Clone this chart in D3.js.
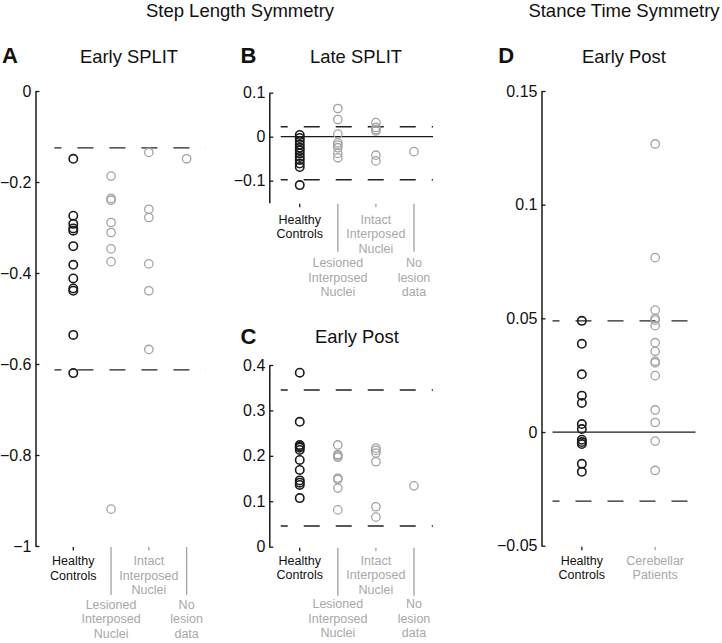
<!DOCTYPE html>
<html>
<head>
<meta charset="utf-8">
<script src="https://cdn.jsdelivr.net/npm/d3@7"></script>
<style>
  body { margin: 0; background: #fff; }
  svg { font-family: "Liberation Sans", Arial, sans-serif; }
</style>
</head>
<body>
<div id="chart"></div>
<script>
// group names and their (multi-line) tick labels
var stepGroups = ["Healthy Controls", "Lesioned Interposed Nuclei", "Intact Interposed Nuclei", "No lesion data"];
var stepLabels = [["Healthy", "Controls"], ["Lesioned", "Interposed", "Nuclei"], ["Intact", "Interposed", "Nuclei"], ["No", "lesion", "data"]];
var stanceGroups = ["Healthy Controls", "Cerebellar Patients"];
var stanceLabels = [["Healthy", "Controls"], ["Cerebellar", "Patients"]];

// A: step length symmetry, early split
var earlySplitControls = [-0.149, -0.274, -0.292, -0.302, -0.307, -0.341, -0.382, -0.412, -0.434, -0.439, -0.536, -0.620];
var earlySplitLesioned = [-0.187, -0.236, -0.240, -0.289, -0.311, -0.347, -0.375, -0.919];
var earlySplitIntact = [-0.135, -0.260, -0.278, -0.380, -0.439, -0.568];
var earlySplitNoData = [-0.149];
var earlySplitBounds = [-0.125, -0.613];

// B: step length symmetry, late split
var lateSplitControls = [0.004, -0.003, -0.010, -0.018, -0.025, -0.031, -0.038, -0.046, -0.053, -0.061, -0.069, -0.110];
var lateSplitLesioned = [0.064, 0.039, 0.006, -0.014, -0.019, -0.025, -0.038, -0.048];
var lateSplitIntact = [0.032, 0.021, 0.016, 0.013, -0.042, -0.055];
var lateSplitNoData = [-0.034];
var lateSplitBounds = [0.0227, -0.098];

// C: step length symmetry, early post
var earlyPostControls = [0.383, 0.275, 0.224, 0.221, 0.218, 0.213, 0.191, 0.169, 0.146, 0.141, 0.136, 0.107];
var earlyPostLesioned = [0.224, 0.203, 0.200, 0.197, 0.151, 0.148, 0.129, 0.081];
var earlyPostIntact = [0.217, 0.212, 0.206, 0.187, 0.088, 0.065];
var earlyPostNoData = [0.134];
var earlyPostBounds = [0.345, 0.0455];

// D: stance time symmetry, early post
var stanceControls = [0.0489, 0.0388, 0.0254, 0.0160, 0.0128, 0.0035, 0.0013, -0.0034, -0.0044, -0.0053, -0.0140, -0.0175];
var stancePatients = [0.1267, 0.0767, 0.0536, 0.0500, 0.0492, 0.0468, 0.0393, 0.0355, 0.0311, 0.0304, 0.0248, 0.0097, 0.0042, -0.0040, -0.0169];
var stanceBounds = [0.0489, -0.0304];

var ticksA = [-1, -0.8, -0.6, -0.4, -0.2, 0];
var ticksB = [-0.1, 0, 0.1];
var ticksC = [0, 0.1, 0.2, 0.3, 0.4];
var ticksD = [-0.05, 0, 0.05, 0.1, 0.15];

var black = "#1a1a1a", gray = "#a3a3a3", grayText = "#a8a8a8";

var panels = [
  {letter: "A", title: "Early SPLIT", titleX: 129, titleY: 63, letterX: 2,
   left: 35.5, right: 205.5, top: 91, bottom: 546, xDomain: [0, 4.5], lineFrom: 0.5,
   yDomain: [-1, 0], ticks: ticksA, bounds: earlySplitBounds, zero: false, labelDy: 19,
   groups: stepGroups, labels: stepLabels,
   series: [earlySplitControls, earlySplitLesioned, earlySplitIntact, earlySplitNoData]},
  {letter: "B", title: "Late SPLIT", titleX: 356, titleY: 63, letterX: 240.5,
   left: 269.3, right: 433, top: 92.7, bottom: 202.7, xDomain: [0.2, 4.5], lineFrom: 0.5,
   yDomain: [-0.15, 0.1], ticks: ticksB, bounds: lateSplitBounds, zero: true, labelDy: 21,
   groups: stepGroups, labels: stepLabels,
   series: [lateSplitControls, lateSplitLesioned, lateSplitIntact, lateSplitNoData]},
  {letter: "C", title: "Early Post", titleX: 357, titleY: 343, letterX: 240.5,
   left: 269.3, right: 433, top: 365, bottom: 546.7, xDomain: [0.2, 4.5], lineFrom: 0.5,
   yDomain: [0, 0.4], ticks: ticksC, bounds: earlyPostBounds, zero: false, labelDy: 18,
   groups: stepGroups, labels: stepLabels,
   series: [earlyPostControls, earlyPostLesioned, earlyPostIntact, earlyPostNoData]},
  {letter: "D", title: "Early Post", titleX: 624, titleY: 63, letterX: 498.3,
   left: 541.5, right: 695.5, top: 91, bottom: 545.7, xDomain: [0.45, 2.55], lineFrom: 0.6,
   yDomain: [-0.05, 0.15], ticks: ticksD, bounds: stanceBounds, zero: true, labelDy: 19,
   groups: stanceGroups, labels: stanceLabels,
   series: [stanceControls, stancePatients]}
];

var svg = d3.select("#chart").append("svg")
  .attr("width", 722)
  .attr("height", 643);

// headings
svg.append("text").attr("x", 240).attr("y", 17).attr("text-anchor", "middle")
  .style("font-size", "18.5px").attr("fill", "#111").text("Step Length Symmetry");
svg.append("text").attr("x", 624).attr("y", 17).attr("text-anchor", "middle")
  .style("font-size", "18.5px").attr("fill", "#111").text("Stance Time Symmetry");

var fmt = function(d) { return d3.format("")(d).replace("-", "\u2212"); };

panels.forEach(function(p) {
  var g = svg.append("g");

  var x = d3.scaleLinear().domain(p.xDomain).range([p.left, p.right]);
  var y = d3.scaleLinear().domain(p.yDomain).range([p.bottom, p.top]);

  // letter + title
  var letterY = p.letter === "C" ? p.titleY + 1 : p.titleY;
  g.append("text").attr("x", p.letterX).attr("y", letterY)
    .style("font-size", "22px").style("font-weight", "bold").attr("fill", "#111").text(p.letter);
  g.append("text").attr("x", p.titleX).attr("y", p.titleY).attr("text-anchor", "middle")
    .style("font-size", "18.4px").attr("fill", "#111").text(p.title);

  // y axis
  var yAxis = d3.axisLeft(y).tickValues(p.ticks).tickFormat(fmt)
    .tickSizeInner(-4).tickSizeOuter(0).tickPadding(4);
  var ax = g.append("g").attr("transform", "translate(" + p.left + ",0)").call(yAxis);
  ax.select(".domain").attr("stroke", black).attr("stroke-width", 1.5);
  ax.selectAll(".tick line").attr("stroke", black).attr("stroke-width", 1.3);
  ax.selectAll(".tick text").style("font-size", "16px").attr("fill", "#111")
    .style("font-family", "'Liberation Sans', Arial, sans-serif");

  // reference lines
  var x0 = x(p.lineFrom), x1 = x(p.xDomain[1]);
  if (p.zero) {
    g.append("line").attr("x1", x0).attr("x2", x1).attr("y1", y(0)).attr("y2", y(0))
      .attr("stroke", black).attr("stroke-width", 1.3);
  }
  g.selectAll(".bound").data(p.bounds).enter().append("line")
    .attr("class", "bound")
    .attr("x1", x0).attr("x2", x1)
    .attr("y1", function(d) { return y(d); })
    .attr("y2", function(d) { return y(d); })
    .attr("stroke", "#222").attr("stroke-width", 1.4)
    .attr("stroke-dasharray", "16,16").attr("stroke-dashoffset", 9);

  // points
  p.series.forEach(function(vals, i) {
    var col = i === 0 ? black : gray;
    g.selectAll(".pt" + i).data(vals).enter().append("circle")
      .attr("class", "pt" + i)
      .attr("cx", x(i + 1))
      .attr("cy", function(d) { return y(d); })
      .attr("r", 4.2)
      .attr("fill", "none")
      .attr("stroke", col)
      .attr("stroke-width", i === 0 ? 1.6 : 1.3);
  });

  // category labels (every other one dropped below)
  var lineH = 14.5;
  p.labels.forEach(function(lines, i) {
    var col = i === 0 ? "#111" : grayText;
    var lowered = p.groups.length > 2 && i % 2 === 1;
    var cx = x(i + 1);
    var baseY = p.bottom + p.labelDy + (lowered ? 3 * lineH : 0);
    g.append("line").attr("x1", cx).attr("x2", cx)
      .attr("y1", p.bottom + 1)
      .attr("y2", lowered ? p.bottom + 49 : p.bottom + 4.5)
      .attr("stroke", i === 0 ? black : gray).attr("stroke-width", 1.3);
    var t = g.append("text").attr("text-anchor", "middle")
      .style("font-size", "12.5px").attr("fill", col);
    lines.forEach(function(s, k) {
      t.append("tspan").attr("x", cx).attr("y", baseY + k * lineH).text(s);
    });
  });
});
</script>
</body>
</html>
